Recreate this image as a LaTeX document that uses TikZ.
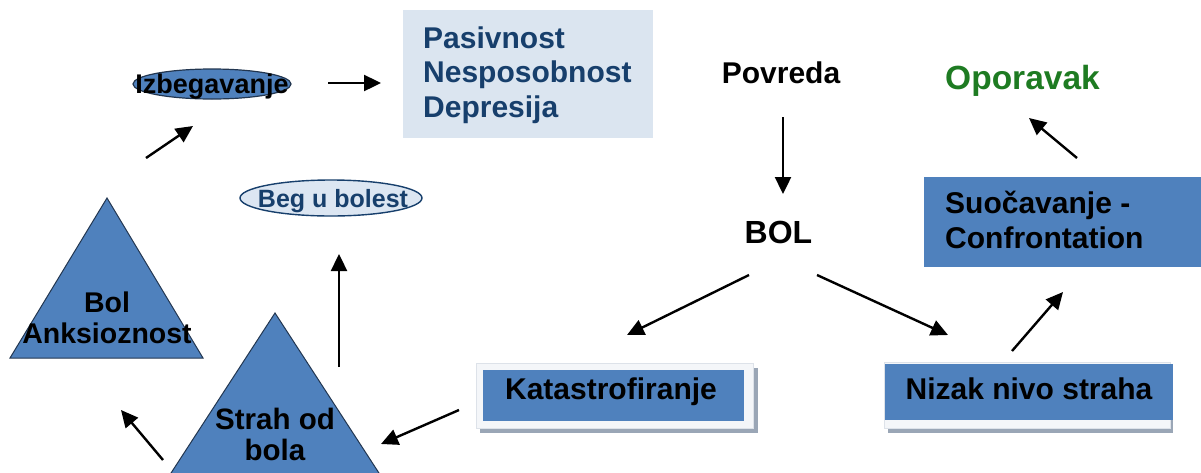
\documentclass[tikz,border=0pt]{standalone}
\usepackage{fontspec}
\setmainfont{Liberation Sans}
\usetikzlibrary{arrows.meta}
\definecolor{midblue}{HTML}{4F81BD}
\definecolor{paleblue}{HTML}{DBE5F0}
\definecolor{begfill}{HTML}{DCE6F2}
\definecolor{navy}{HTML}{173F6C}
\definecolor{edgecol}{HTML}{223650}
\definecolor{okgreen}{HTML}{1E7B22}
\definecolor{shadowgray}{HTML}{9AA6B6}
\definecolor{framewhite}{HTML}{F4F6F9}
\definecolor{frameedge}{HTML}{DDE2E9}
\begin{document}
\begin{tikzpicture}[x=1pt,y=-1pt,
  arr/.style={line width=2.4pt,-{Triangle[length=17pt,width=16pt]}},
  lbl/.style={font=\bfseries\fontsize{30}{34.5}\selectfont,inner sep=0pt},
  tri/.style={fill=midblue,draw=edgecol,line width=1pt,line join=miter},
  bluebox/.style={fill=midblue},
  frame/.style={fill=framewhite,draw=frameedge,line width=0.6pt},
  shadow/.style={fill=shadowgray}]
\useasboundingbox (0,0) rectangle (1201,472);

% Pasivnost box
\fill[paleblue] (403,10) rectangle (653,138);
\node[lbl,text=navy,align=left,anchor=base west] (pas) at (423,117)
  {Pasivnost\\Nesposobnost\\Depresija};

% Izbegavanje ellipse
\draw[fill=midblue,draw=edgecol,line width=1.2pt] (212,84) ellipse [x radius=79,y radius=15];
\node[lbl,font=\bfseries\fontsize{27}{30}\selectfont,text=black,anchor=base] (izb) at (212,93.5) {Izbegavanje};

% Beg u bolest ellipse
\draw[fill=begfill,draw=navy,line width=1.4pt] (331,198) ellipse [x radius=91,y radius=18];
\node[lbl,font=\bfseries\fontsize{25}{28}\selectfont,text=navy,anchor=base] (beg) at (333,207.5) {Beg u bolest};

% Triangles
\draw[tri] (107,198) -- (10,358) -- (203,358) -- cycle;
\node[lbl,font=\bfseries\fontsize{28.5}{30.5}\selectfont,align=center,anchor=base] (anks) at (107,343)
  {Bol\\Anksioznost};
\draw[tri] (275,313) -- (160,490) -- (390,490) -- cycle;
\node[lbl,font=\bfseries\fontsize{29.5}{31}\selectfont,align=center,anchor=base] (strah) at (275,460)
  {Strah od\\bola};

% Povreda, BOL, Oporavak
\node[lbl,anchor=base] (povreda) at (781,83) {Povreda};
\node[lbl,font=\bfseries\fontsize{32}{36}\selectfont,anchor=base] (bol) at (778.5,243.5) {BOL};
\node[lbl,font=\bfseries\fontsize{33.5}{38}\selectfont,text=okgreen,anchor=base] (oporavak) at (1022.5,89) {Oporavak};

% Suocavanje box
\fill[bluebox] (924,177) rectangle (1201,267);
\node[lbl,align=left,anchor=base west] (suoc) at (945,248) {Suočavanje -\\Confrontation};

% Katastrofiranje box
\fill[shadow] (480,368) rectangle (758,433);
\filldraw[frame] (476,363) rectangle (753,428);
\fill[bluebox] (483,370) rectangle (744,421);
\node[lbl,anchor=base] (kat) at (611,399) {Katastrofiranje};

% Nizak nivo straha box
\fill[shadow] (888,368) rectangle (1173,433);
\filldraw[frame] (884,362) rectangle (1170,428);
\fill[bluebox] (885,364) rectangle (1173,420);
\node[lbl,anchor=base] (nizak) at (1029,399) {Nizak nivo straha};

% arrow end points
\coordinate (a1s) at (328,83);   \coordinate (a1e) at (381,83);
\coordinate (a2s) at (146,158);  \coordinate (a2e) at (193,126);
\coordinate (a3s) at (783,117);  \coordinate (a3e) at (783,194);
\coordinate (a4s) at (1077,158); \coordinate (a4e) at (1029,118);
\coordinate (a5s) at (749,275);  \coordinate (a5e) at (627,335);
\coordinate (a6s) at (817,275);  \coordinate (a6e) at (948,335);
\coordinate (a7s) at (1012,351); \coordinate (a7e) at (1063,292);
\coordinate (a8s) at (459,410);  \coordinate (a8e) at (381,444);
\coordinate (a9s) at (339,367);  \coordinate (a9e) at (339,254);
\coordinate (a10s) at (163,460); \coordinate (a10e) at (121,410);

\draw[arr] (a1s) -- (a1e);
\draw[arr] (a2s) -- (a2e);
\draw[arr] (a3s) -- (a3e);
\draw[arr] (a4s) -- (a4e);
\draw[arr] (a5s) -- (a5e);
\draw[arr] (a6s) -- (a6e);
\draw[arr] (a7s) -- (a7e);
\draw[arr] (a8s) -- (a8e);
\draw[arr] (a9s) -- (a9e);
\draw[arr] (a10s) -- (a10e);
\end{tikzpicture}
\end{document}
